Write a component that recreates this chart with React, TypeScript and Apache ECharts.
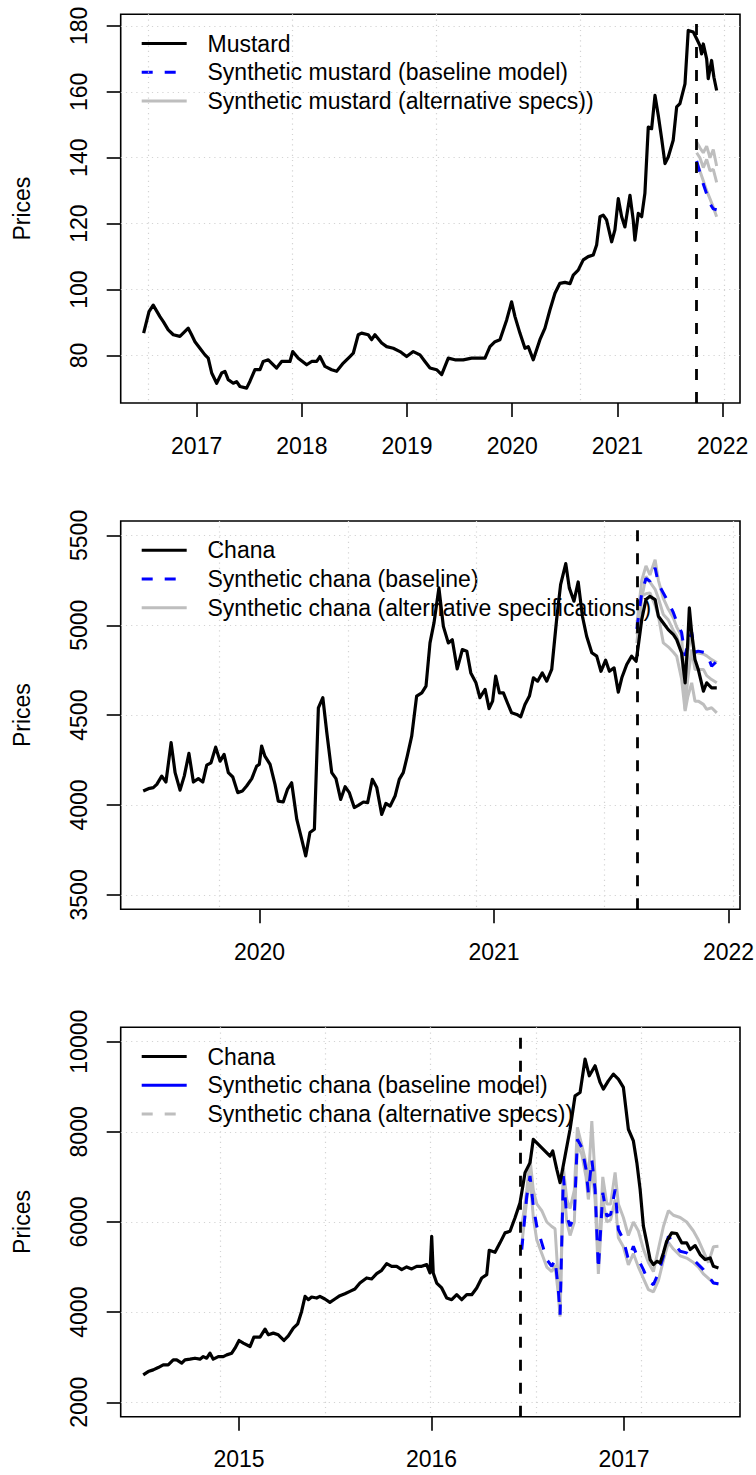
import * as echarts from "echarts";
import { useEffect, useRef } from "react";

const FONT = '"Liberation Sans", Arial, Helvetica, sans-serif';
const FONT_SIZE = 23;

// ---- panel 1: mustard ----
const mustardYears = [
  2016.496, 2016.547, 2016.587, 2016.651, 2016.683, 2016.73, 2016.778, 2016.841, 2016.889, 2016.92,
  2016.952, 2016.984, 2017.031, 2017.079, 2017.11, 2017.143, 2017.19, 2017.238, 2017.269, 2017.3,
  2017.348, 2017.38, 2017.412, 2017.475, 2017.507, 2017.554, 2017.602, 2017.633, 2017.681, 2017.76,
  2017.808, 2017.887, 2017.913, 2017.966, 2018.046, 2018.093, 2018.141, 2018.172, 2018.22, 2018.283,
  2018.331, 2018.394, 2018.457, 2018.489, 2018.536, 2018.568, 2018.631, 2018.663, 2018.695, 2018.759,
  2018.806, 2018.869, 2018.933, 2018.996, 2019.059, 2019.123, 2019.17, 2019.218, 2019.281, 2019.329,
  2019.392, 2019.455, 2019.534, 2019.614, 2019.693, 2019.741, 2019.788, 2019.836, 2019.883, 2019.947,
  2019.994, 2020.026, 2020.073, 2020.121, 2020.152, 2020.2, 2020.263, 2020.311, 2020.358, 2020.406,
  2020.453, 2020.501, 2020.549, 2020.58, 2020.627, 2020.675, 2020.722, 2020.77, 2020.802, 2020.834,
  2020.865, 2020.897, 2020.945, 2020.976, 2021.008, 2021.04, 2021.071, 2021.119, 2021.15, 2021.166,
  2021.198, 2021.23, 2021.261, 2021.293, 2021.325, 2021.357, 2021.388, 2021.42, 2021.452, 2021.483,
  2021.53, 2021.563, 2021.594, 2021.642, 2021.673, 2021.721, 2021.753, 2021.784, 2021.8, 2021.816,
  2021.848, 2021.863, 2021.895, 2021.917, 2021.943,
];
const mustardPrices = [
  86.8, 93.3, 95.3, 91.8, 90.3, 87.8, 86.3, 85.8, 87.3, 88.3,
  86.3, 84.2, 82.2, 80.2, 79.2, 74.7, 71.6, 74.7, 75.2, 72.7,
  71.6, 72.1, 70.6, 70.1, 72.2, 75.7, 75.7, 78.2, 78.7, 76.2,
  78.2, 78.2, 81.2, 79.2, 77.2, 78.2, 78.2, 79.7, 76.7, 75.7,
  75.2, 77.7, 79.7, 80.7, 86.3, 86.8, 86.3, 84.8, 86.3, 83.8,
  82.7, 82.2, 81.2, 79.7, 81.2, 80.2, 78.2, 76.2, 75.7, 74.2,
  79.2, 78.7, 78.7, 79.2, 79.2, 79.2, 82.7, 84.2, 84.8, 90.8,
  96.3, 91.8, 86.8, 82.2, 82.7, 78.7, 84.8, 88.3, 93.8, 98.9,
  101.9, 102.2, 101.8, 104.4, 105.9, 109.0, 110.0, 110.5, 113.5, 122.1,
  122.6, 121.1, 114.5, 118.1, 127.6, 122.1, 119.0, 128.6, 121.1, 115.0,
  123.1, 122.1, 129.2, 149.3, 148.8, 158.9, 152.9, 145.8, 138.2, 140.2,
  145.3, 155.4, 156.4, 162.4, 178.6, 178.1, 176.1, 174.0, 171.5, 174.5,
  170.0, 164.0, 169.5, 164.4, 160.4,
];
const mustardSynYears = [2021.753, 2021.784, 2021.816, 2021.848, 2021.88, 2021.911, 2021.943];
const mustardBaseline = [139.0, 135.5, 132.0, 129.0, 126.0, 124.5, 124.2];
const mustardAltA = [144.8, 143.0, 141.5, 143.5, 140.0, 142.5, 137.5];
const mustardAltB = [141.5, 140.0, 137.0, 139.5, 136.0, 136.5, 132.5];
const mustardAltC = [138.5, 136.0, 133.0, 130.0, 127.5, 125.0, 122.1];
const mustardXTicks = [2017, 2018, 2019, 2020, 2021, 2022];
const mustardYTicks = [80, 100, 120, 140, 160, 180];
const mustardGridDays = [17000, 17500, 18000, 18500, 19000];
const mustardEvent = 2021.753;

// ---- panel 2: chana (2019-2021) ----
const chanaYears = [
  2019.504, 2019.526, 2019.547, 2019.562, 2019.583, 2019.601, 2019.623, 2019.64, 2019.661, 2019.679,
  2019.699, 2019.718, 2019.739, 2019.758, 2019.775, 2019.793, 2019.813, 2019.832, 2019.849, 2019.867,
  2019.886, 2019.907, 2019.927, 2019.945, 2019.967, 2019.988, 2019.999, 2020.009, 2020.023, 2020.045,
  2020.066, 2020.08, 2020.101, 2020.119, 2020.137, 2020.159, 2020.18, 2020.197, 2020.215, 2020.234,
  2020.251, 2020.27, 2020.287, 2020.308, 2020.326, 2020.346, 2020.365, 2020.383, 2020.404, 2020.421,
  2020.443, 2020.461, 2020.481, 2020.5, 2020.521, 2020.539, 2020.557, 2020.578, 2020.596, 2020.613,
  2020.63, 2020.649, 2020.67, 2020.692, 2020.71, 2020.727, 2020.744, 2020.765, 2020.784, 2020.805,
  2020.822, 2020.843, 2020.865, 2020.884, 2020.901, 2020.923, 2020.94, 2020.962, 2020.979, 2020.994,
  2021.007, 2021.023, 2021.04, 2021.057, 2021.075, 2021.097, 2021.114, 2021.132, 2021.151, 2021.168,
  2021.186, 2021.206, 2021.225, 2021.246, 2021.267, 2021.284, 2021.306, 2021.321, 2021.341, 2021.359,
  2021.377, 2021.395, 2021.417, 2021.438, 2021.456, 2021.476, 2021.492, 2021.512, 2021.53, 2021.545,
  2021.566, 2021.587, 2021.606, 2021.615, 2021.63, 2021.648, 2021.665, 2021.687, 2021.701, 2021.722,
  2021.743, 2021.765, 2021.779, 2021.8, 2021.815, 2021.826, 2021.833, 2021.843, 2021.857, 2021.871,
  2021.893, 2021.907, 2021.928, 2021.95,
];
const chanaPrices = [
  4078, 4091, 4097, 4115, 4161, 4128, 4347, 4180, 4083, 4161,
  4287, 4128, 4147, 4128, 4222, 4235, 4322, 4244, 4282, 4180,
  4156, 4069, 4078, 4106, 4147, 4217, 4226, 4328, 4272, 4226,
  4115, 4022, 4017, 4087, 4124, 3920, 3809, 3717, 3847, 3865,
  4541, 4597, 4402, 4180, 4147, 4031, 4102, 4069, 3986, 3998,
  4017, 4013, 4143, 4097, 3948, 4009, 3994, 4050, 4143, 4180,
  4272, 4383, 4606, 4624, 4661, 4902, 5013, 5208, 4994, 4902,
  4920, 4757, 4865, 4856, 4735, 4680, 4597, 4643, 4536, 4578,
  4717, 4624, 4624, 4569, 4513, 4504, 4491, 4559, 4606, 4708,
  4689, 4735, 4689, 4754, 5032, 5226, 5343, 5208, 5134, 5241,
  5050, 4939, 4847, 4828, 4744, 4806, 4744, 4763, 4628, 4708,
  4782, 4828, 4800, 4883, 5032, 5143, 5161, 5143, 5050, 5013,
  4976, 4948, 4920, 4846, 4680, 4902, 5097, 4958, 4809, 4754,
  4633, 4680, 4652, 4652,
];
const chanaSynYears = [
  2021.609, 2021.63, 2021.648, 2021.665, 2021.687, 2021.701, 2021.722, 2021.743, 2021.765, 2021.779,
  2021.8, 2021.815, 2021.826, 2021.843, 2021.857, 2021.871, 2021.893, 2021.907, 2021.928, 2021.95,
];
const chanaBaseline = [
  4980, 5180, 5260, 5245, 5320, 5230, 5180, 5130, 5070, 5020,
  4960, 4830, 4900, 4960, 4850, 4856, 4850, 4846, 4772, 4800,
];
const chanaAltA = [
  5000, 5250, 5330, 5280, 5365, 5250, 5150, 5090, 5040, 4990,
  4940, 4610, 4850, 4950, 4850, 4846, 4840, 4830, 4809, 4791,
];
const chanaAltB = [
  4950, 5150, 5272, 5240, 5200, 5150, 5060, 5030, 4970, 4939,
  4850, 4532, 4700, 4865, 4754, 4754, 4754, 4720, 4698, 4680,
];
const chanaAltC = [
  4900, 5161, 5175, 5180, 5110, 5050, 4902, 4880, 4850, 4828,
  4700, 4523, 4600, 4680, 4578, 4578, 4560, 4532, 4541, 4513,
];
const chanaXTicks = [2020, 2021, 2022];
const chanaYTicks = [3500, 4000, 4500, 5000, 5500];
const chanaGridDays = [18200, 18400, 18600, 18800, 19000];
const chanaEvent = 2021.609;

// ---- panel 3: chana (2014-2017) ----
const chana2Years = [
  2014.502, 2014.528, 2014.554, 2014.58, 2014.606, 2014.632, 2014.658, 2014.676, 2014.702, 2014.719,
  2014.745, 2014.771, 2014.797, 2014.814, 2014.832, 2014.849, 2014.866, 2014.892, 2014.918, 2014.936,
  2014.962, 2014.979, 2015.0, 2015.022, 2015.057, 2015.077, 2015.109, 2015.135, 2015.152, 2015.178,
  2015.204, 2015.233, 2015.256, 2015.282, 2015.305, 2015.325, 2015.343, 2015.36, 2015.377, 2015.403,
  2015.42, 2015.446, 2015.472, 2015.498, 2015.524, 2015.55, 2015.576, 2015.602, 2015.628, 2015.663,
  2015.689, 2015.715, 2015.741, 2015.767, 2015.793, 2015.819, 2015.845, 2015.871, 2015.897, 2015.923,
  2015.949, 2015.975, 2015.992, 2016.001, 2016.009, 2016.027, 2016.053, 2016.079, 2016.105, 2016.131,
  2016.157, 2016.183, 2016.209, 2016.235, 2016.261, 2016.287, 2016.3, 2016.33, 2016.356, 2016.382,
  2016.408, 2016.434, 2016.46, 2016.486, 2016.512, 2016.529, 2016.555, 2016.59, 2016.616, 2016.63,
  2016.651, 2016.668, 2016.694, 2016.72, 2016.746, 2016.772, 2016.798, 2016.82, 2016.85, 2016.876,
  2016.893, 2016.919, 2016.945, 2016.971, 2016.997, 2017.023, 2017.049, 2017.067, 2017.084, 2017.101,
  2017.119, 2017.136, 2017.153, 2017.171, 2017.188, 2017.205, 2017.222, 2017.248, 2017.274, 2017.3,
  2017.326, 2017.344, 2017.37, 2017.396, 2017.422, 2017.448, 2017.465, 2017.491,
];
const chana2Prices = [
  2607, 2681, 2719, 2770, 2830, 2830, 2941, 2941, 2868, 2941,
  2956, 2978, 2956, 3014, 2978, 3089, 2956, 3014, 3014, 3052,
  3089, 3200, 3371, 3313, 3237, 3446, 3446, 3624, 3497, 3534,
  3497, 3371, 3475, 3646, 3741, 4016, 4350, 4276, 4335, 4313,
  4350, 4291, 4217, 4291, 4365, 4409, 4461, 4513, 4646, 4758,
  4735, 4854, 4928, 5077, 5017, 5017, 4943, 5003, 4959, 5017,
  5017, 5054, 4870, 5684, 4870, 4646, 4536, 4313, 4276, 4387,
  4276, 4387, 4387, 4536, 4758, 4832, 5373, 5328, 5537, 5759,
  5795, 6093, 6427, 7095, 7317, 7835, 7724, 7575, 7464, 7575,
  7168, 6872, 7464, 8058, 8799, 8874, 9615, 9244, 9466, 9097,
  8948, 9132, 9281, 9170, 8986, 8058, 7798, 7317, 6723, 5907,
  5537, 5166, 5054, 5128, 5092, 5314, 5573, 5759, 5744, 5537,
  5537, 5388, 5477, 5277, 5166, 5203, 5017, 4980,
];
const chana2SynYears = [
  2016.469, 2016.495, 2016.512, 2016.529, 2016.547, 2016.573, 2016.599, 2016.625, 2016.642, 2016.659,
  2016.668, 2016.685, 2016.703, 2016.72, 2016.742, 2016.758, 2016.781, 2016.803, 2016.815, 2016.833,
  2016.85, 2016.867, 2016.89, 2016.911, 2016.931, 2016.954, 2016.971, 2016.997, 2017.023, 2017.049,
  2017.075, 2017.101, 2017.127, 2017.153, 2017.179, 2017.205, 2017.231, 2017.257, 2017.292, 2017.326,
  2017.361, 2017.387, 2017.413, 2017.439, 2017.465, 2017.491,
];
const chana2Baseline = [
  5388, 6574, 7020, 6352, 5907, 5537, 5166, 5017, 5166, 4498,
  3942, 7020, 6129, 5907, 6129, 7835, 7650, 7168, 6649, 7390,
  6723, 4943, 6649, 6129, 6167, 6723, 5833, 5611, 5166, 5462,
  5166, 4943, 4683, 4609, 4870, 5240, 5684, 5537, 5350, 5314,
  5166, 5054, 4943, 4794, 4647, 4632,
];
const chana2AltA = [
  5900, 6700, 7400, 6700, 6400, 6250, 6000, 5900, 5850, 4700,
  3950, 7200, 6500, 6300, 6700, 8100, 7700, 7300, 6900, 8240,
  7000, 5100, 7000, 6400, 6400, 7100, 6400, 6100, 5700, 6000,
  5800, 5400, 5100, 4900, 5400, 5900, 6250, 6150, 6100, 6000,
  5800, 5600, 5350, 5100, 5450, 5460,
];
const chana2AltB = [
  5500, 6500, 7000, 6100, 5600, 5300, 5000, 4900, 5050, 4400,
  3900, 6900, 6000, 5700, 6000, 7700, 7500, 7000, 6500, 7200,
  6500, 4850, 6500, 6000, 6050, 6500, 5650, 5450, 5050, 5300,
  5000, 4750, 4500, 4450, 4700, 5150, 5550, 5400, 5250, 5200,
  5100, 5000, 4850, 4750, 4650, 4620,
];
const chana2XTicks = [2015, 2016, 2017];
const chana2YTicks = [2000, 4000, 6000, 8000, 10000];
const chana2GridDays = [16400, 16600, 16800, 17000, 17200];
const chana2Event = 2016.456;

const BLACK = "#000000";
const BLUE = "#0000ff";
const GREY = "#bebebe";
const DASH = [11, 12];

const toYear = (d: number) => 1970 + d / 365.25;
const pairs = (xs: number[], ys: number[]) => xs.map((x, i) => [x, ys[i]]);

type LegendRow = { text: string; color: string; dashed: boolean };

const panels = [
  {
    top: 14.3,
    height: 388.7,
    xRange: [2016.278, 2022.165],
    yRange: [65.6, 183.5],
    xTicks: mustardXTicks,
    yTicks: mustardYTicks,
    gridDays: mustardGridDays,
    event: mustardEvent,
    actual: pairs(mustardYears, mustardPrices),
    baseline: pairs(mustardSynYears, mustardBaseline),
    alts: [mustardAltA, mustardAltB, mustardAltC].map((a) => pairs(mustardSynYears, a)),
    legend: [
      { text: "Mustard", color: BLACK, dashed: false },
      { text: "Synthetic mustard (baseline model)", color: BLUE, dashed: true },
      { text: "Synthetic mustard (alternative specs))", color: GREY, dashed: false },
    ] as LegendRow[],
  },
  {
    top: 521,
    height: 388.3,
    xRange: [2019.408, 2022.049],
    yRange: [3420, 5580],
    xTicks: chanaXTicks,
    yTicks: chanaYTicks,
    gridDays: chanaGridDays,
    event: chanaEvent,
    actual: pairs(chanaYears, chanaPrices),
    baseline: pairs(chanaSynYears, chanaBaseline),
    alts: [chanaAltA, chanaAltB, chanaAltC].map((a) => pairs(chanaSynYears, a)),
    legend: [
      { text: "Chana", color: BLACK, dashed: false },
      { text: "Synthetic chana (baseline)", color: BLUE, dashed: true },
      { text: "Synthetic chana (alternative specifications))", color: GREY, dashed: false },
    ] as LegendRow[],
  },
  {
    top: 1027.3,
    height: 389.4,
    xRange: [2014.385, 2017.603],
    yRange: [1680, 10320],
    xTicks: chana2XTicks,
    yTicks: chana2YTicks,
    gridDays: chana2GridDays,
    event: chana2Event,
    actual: pairs(chana2Years, chana2Prices),
    baseline: pairs(chana2SynYears, chana2Baseline),
    alts: [chana2AltA, chana2AltB].map((a) => pairs(chana2SynYears, a)),
    legend: [
      { text: "Chana", color: BLACK, dashed: false },
      { text: "Synthetic chana (baseline model)", color: BLUE, dashed: false },
      { text: "Synthetic chana (alternative specs))", color: GREY, dashed: true },
    ] as LegendRow[],
  },
];

const LEFT = 120.7;
const WIDTH = 619.3;

export default function App() {
  const chartRef = useRef<HTMLDivElement>(null);

  useEffect(() => {
    if (!chartRef.current) return;
    document.body.style.margin = "0";
    const chart = echarts.init(chartRef.current, null, { renderer: "svg" });

    const labelStyle = { fontSize: FONT_SIZE, fontFamily: FONT, color: BLACK };
    const tickLine = { color: BLACK, width: 1.6 };
    const dotted = { color: "#d3d3d3", width: 1.2, type: [1.2, 4] };

    const grids: any[] = [];
    const xAxes: any[] = [];
    const yAxes: any[] = [];
    const series: any[] = [];
    const graphics: any[] = [];

    panels.forEach((p, i) => {
      grids.push({
        left: LEFT,
        top: p.top,
        width: WIDTH,
        height: p.height,
        show: true,
        borderColor: BLACK,
        borderWidth: 1.6,
        backgroundColor: "rgba(0,0,0,0)",
        containLabel: false,
        outerBoundsMode: "none",
      });
      // year ticks and labels
      xAxes.push({
        type: "value",
        gridIndex: i,
        position: "bottom",
        min: p.xRange[0],
        max: p.xRange[1],
        axisLine: { show: false },
        axisTick: { show: true, inside: false, length: 14, customValues: p.xTicks, lineStyle: tickLine },
        axisLabel: {
          show: true,
          customValues: p.xTicks,
          margin: 31,
          ...labelStyle,
          formatter: (v: number) => String(Math.round(v)),
        },
        splitLine: { show: false },
      });
      // dotted grid lines (R grid() at pretty day counts)
      const gridVals = p.gridDays.map(toYear);
      xAxes.push({
        type: "value",
        gridIndex: i,
        position: "top",
        min: p.xRange[0],
        max: p.xRange[1],
        axisLine: { show: false },
        axisLabel: { show: false },
        axisTick: { show: false, customValues: gridVals },
        splitLine: { show: true, customValues: gridVals, lineStyle: dotted },
      });
      yAxes.push({
        type: "value",
        gridIndex: i,
        min: p.yRange[0],
        max: p.yRange[1],
        axisLine: { show: false },
        axisTick: { show: true, inside: false, length: 14, customValues: p.yTicks, lineStyle: tickLine },
        axisLabel: {
          show: true,
          customValues: p.yTicks,
          rotate: 90,
          margin: 30,
          ...labelStyle,
          formatter: (v: number) => String(Math.round(v)),
        },
        splitLine: { show: true, customValues: p.yTicks, lineStyle: dotted },
      });

      const common = {
        type: "line",
        xAxisIndex: i * 2,
        yAxisIndex: i,
        showSymbol: false,
        symbol: "none",
        silent: true,
        animation: false,
      };
      p.alts.forEach((alt) => {
        series.push({ ...common, data: alt, z: 2, lineStyle: { color: GREY, width: 3 } });
      });
      series.push({
        ...common,
        data: p.baseline,
        z: 3,
        lineStyle: { color: BLUE, width: 3, type: DASH },
      });
      series.push({
        ...common,
        data: p.actual,
        z: 4,
        lineStyle: { color: BLACK, width: 3.2, join: "round" },
        markLine: {
          silent: true,
          symbol: ["none", "none"],
          label: { show: false },
          lineStyle: { color: BLACK, width: 2.8, type: DASH },
          data: [{ xAxis: p.event }],
        },
      });

      // y-axis title
      graphics.push({
        type: "text",
        x: 22,
        y: p.top + p.height / 2,
        rotation: Math.PI / 2,
        style: {
          text: "Prices",
          font: `${FONT_SIZE}px ${FONT}`,
          fill: BLACK,
          align: "center",
          verticalAlign: "middle",
          textAlign: "center",
          textVerticalAlign: "middle",
        },
      });

      // legend (drawn like R's legend(bty = "n"))
      p.legend.forEach((row, k) => {
        const y = p.top + 29.3 + k * 28.7;
        graphics.push({
          type: "line",
          shape: { x1: 141.7, y1: y, x2: 186.7, y2: y },
          style: {
            stroke: row.color,
            lineWidth: 3,
            lineDash: row.dashed ? [11, 12] : null,
          },
        });
        graphics.push({
          type: "text",
          x: 207.5,
          y,
          style: {
            text: row.text,
            font: `${FONT_SIZE}px ${FONT}`,
            fill: BLACK,
            align: "left",
            verticalAlign: "middle",
            textAlign: "left",
            textVerticalAlign: "middle",
          },
        });
      });
    });

    chart.setOption({
      animation: false,
      backgroundColor: "#ffffff",
      grid: grids,
      xAxis: xAxes,
      yAxis: yAxes,
      series,
      graphic: graphics,
    });

    return () => {
      chart.dispose();
    };
  }, []);

  return <div ref={chartRef} style={{ width: 756, height: 1475 }} />;
}
